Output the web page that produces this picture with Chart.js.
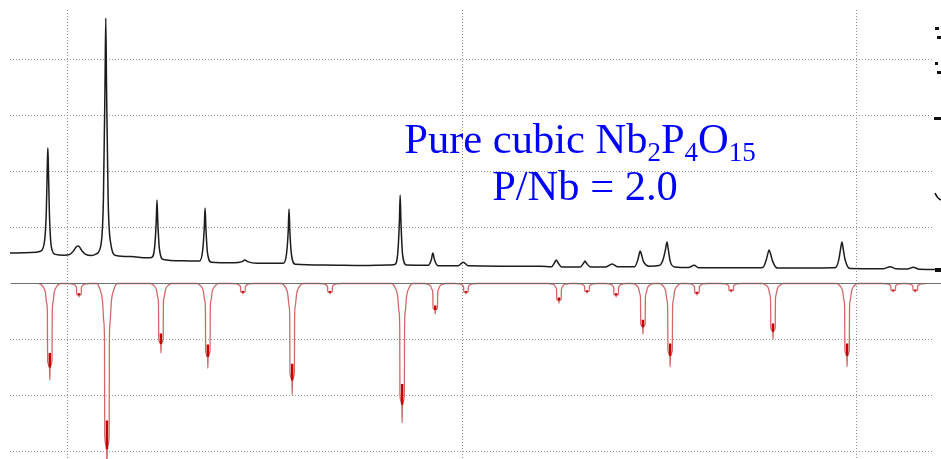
<!DOCTYPE html>
<html>
<head>
<meta charset="utf-8">
<script src="https://cdn.jsdelivr.net/npm/chart.js@4.4.1/dist/chart.umd.min.js"></script>
<style>
  html, body { margin: 0; padding: 0; background: #fff; }
  #wrap { width: 941px; height: 459px; }
</style>
</head>
<body>
<div id="wrap"><canvas id="xrd" width="941" height="459"></canvas></div>
<script>
// measured pattern: [2-theta (deg), intensity]
const observed = [
  [8.53, 10.9], [8.90, 11.0], [9.20, 11.2],
  [9.30, 11.5], [9.40, 14.5], [9.45, 25.0], [9.48, 44.0], [9.49, 48.4], [9.50, 44.0], [9.53, 25.0], [9.58, 13.0], [9.68, 10.4],
  [9.90, 10.1], [10.05, 10.4], [10.15, 11.8], [10.22, 13.2], [10.27, 13.4], [10.34, 12.0], [10.45, 10.4],
  [10.60, 10.0], [10.72, 10.6], [10.84, 14.0], [10.90, 30.0], [10.94, 70.0], [10.96, 94.8], [10.98, 70.0], [11.02, 30.0], [11.09, 14.0], [11.22, 10.0],
  [11.60, 9.6], [12.00, 9.2],
  [12.12, 9.3], [12.20, 13.0], [12.24, 22.0], [12.26, 29.8], [12.28, 22.0], [12.32, 12.5], [12.42, 8.6],
  [12.90, 8.1],
  [13.34, 8.0], [13.42, 12.0], [13.46, 20.0], [13.48, 27.0], [13.50, 20.0], [13.54, 11.0], [13.64, 7.6],
  [14.20, 7.4], [14.42, 7.8], [14.49, 8.4], [14.56, 7.8], [14.80, 7.2],
  [15.47, 7.2], [15.55, 11.0], [15.59, 19.0], [15.61, 26.6], [15.63, 19.0], [15.67, 10.5], [15.77, 6.9],
  [16.50, 6.6], [17.50, 6.4], [18.10, 6.6],
  [18.29, 6.8], [18.37, 11.0], [18.41, 22.0], [18.43, 31.6], [18.45, 22.0], [18.49, 10.5], [18.59, 6.6],
  [19.14, 6.5], [19.22, 8.5], [19.26, 10.9], [19.30, 8.5], [19.40, 6.3],
  [19.90, 6.3], [20.03, 7.6], [20.16, 6.3],
  [21.00, 6.2], [22.00, 6.2],
  [22.27, 6.0], [22.35, 7.5], [22.39, 8.4], [22.43, 7.5], [22.53, 5.9],
  [23.00, 5.9], [23.08, 7.2], [23.12, 8.0], [23.16, 7.2], [23.26, 5.9],
  [23.65, 5.9], [23.81, 7.0], [23.95, 6.0],
  [24.38, 6.0], [24.46, 8.5], [24.50, 10.8], [24.52, 11.6], [24.55, 10.5], [24.60, 8.0], [24.75, 6.2],
  [25.00, 6.4], [25.10, 8.5], [25.16, 12.0], [25.20, 14.8], [25.23, 12.5], [25.28, 8.0], [25.40, 5.9],
  [25.75, 5.7], [25.89, 6.5], [26.00, 5.6],
  [26.80, 5.6], [27.50, 5.6],
  [27.63, 5.7], [27.72, 8.5], [27.77, 11.2], [27.79, 12.0], [27.82, 11.0], [27.88, 8.0], [28.00, 5.5],
  [28.80, 5.5], [29.40, 5.6],
  [29.48, 5.7], [29.56, 8.5], [29.61, 12.8], [29.64, 14.8], [29.67, 12.5], [29.72, 8.5], [29.84, 5.4],
  [30.70, 5.3], [30.86, 6.0], [31.00, 5.3], [31.30, 5.2], [31.45, 5.8], [31.60, 5.1], [32.16, 5.0]
];

// reference lines for cubic Nb2P4O15 (plotted downward)
const refTheta = [9.54, 10.28, 10.99, 12.36, 13.55, 14.44, 15.69, 16.65, 18.48, 19.32, 20.10,
                  22.46, 23.17, 23.91, 24.59, 25.28, 25.96, 26.83, 27.89, 29.77, 30.94, 31.50];
const refInt   = [34.5, 4.8, 68.0, 24.8, 30.2, 3.7, 39.8, 3.7, 49.8, 10.9, 3.7,
                  7.0, 3.4, 4.8, 18.0, 29.8, 4.1, 3.0, 19.8, 29.8, 3.0, 3.0];

const thetaTicks = [10, 20, 30];
const intTicks = [-60, -40, -20, 20, 40, 60, 80];

const X_MIN = 8.53, X_MAX = 31.95;
const Y_MIN = -62.68, Y_MAX = 97.68;

// profile drawn around each reference line: flared top, narrow doublet stem, thin tip
const shapeDx = [-0.27, -0.178, -0.114, -0.08, -0.062, -0.056, -0.008, 0, 0.008, 0.056, 0.062, 0.08, 0.114, 0.178, 0.27];
const shapeFr = [0, 0.03, 0.09, 0.2, 0.3, 0.8, 0.86, 1, 0.86, 0.8, 0.3, 0.2, 0.09, 0.03, 0];

const refOutline = [];
const refCore = [];
refTheta.forEach((c, i) => {
  const d = refInt[i];
  shapeDx.forEach((dx, k) => refOutline.push({ x: c + dx, y: -d * shapeFr[k] }));
  refCore.push({ x: c, y: -d * 0.72 }, { x: c, y: -d * 0.87 }, { x: c, y: null });
});

const obsPoints = observed.map(p => ({ x: p[0], y: p[1] }));

const labels = {
  id: 'labels',
  afterDraw(chart) {
    const ctx = chart.ctx;
    ctx.save();
    ctx.fillStyle = '#0000ff';
    ctx.textBaseline = 'alphabetic';
    const big = '42.5px "Liberation Serif", "Times New Roman", serif';
    const small = '27px "Liberation Serif", "Times New Roman", serif';
    const runs = [['Pure cubic Nb', 0], ['2', 1], ['P', 0], ['4', 1], ['O', 0], ['15', 1]];
    let w = 0;
    runs.forEach(r => { ctx.font = r[1] ? small : big; w += ctx.measureText(r[0]).width; });
    let x = 580 - w / 2;
    runs.forEach(r => {
      ctx.font = r[1] ? small : big;
      ctx.fillText(r[0], x, r[1] ? 161 : 153);
      x += ctx.measureText(r[0]).width;
    });
    ctx.font = big;
    ctx.textAlign = 'center';
    ctx.fillText('P/Nb = 2.0', 585, 200);

    // bits of the neighbouring panel cut off at the right edge
    ctx.fillStyle = '#111';
    ctx.fillRect(935, 27, 4, 3);
    ctx.fillRect(937, 36, 4, 3);
    ctx.fillRect(935, 62, 3, 3);
    ctx.fillRect(937, 71, 4, 3);
    ctx.fillRect(934, 117, 7, 3);
    ctx.fillRect(935, 268, 6, 4);
    ctx.strokeStyle = '#111';
    ctx.lineWidth = 1.5;
    ctx.beginPath();
    ctx.moveTo(935, 193);
    ctx.quadraticCurveTo(937, 198, 941, 200);
    ctx.stroke();
    ctx.restore();
  }
};

new Chart(document.getElementById('xrd'), {
  type: 'line',
  data: {
    datasets: [
      {
        data: [{ x: 8.55, y: 0 }, { x: 32.2, y: 0 }],
        borderColor: '#6e6e6e',
        borderWidth: 1.2,
        pointRadius: 0,
        clip: false
      },
      {
        data: obsPoints,
        borderColor: '#1c1c1c',
        borderWidth: 1.5,
        pointRadius: 0,
        cubicInterpolationMode: 'monotone',
        clip: false
      },
      {
        data: refCore,
        borderColor: '#c40000',
        borderWidth: 2.4,
        pointRadius: 0,
        spanGaps: false,
        clip: false
      },
      {
        data: refOutline,
        borderColor: 'rgba(200, 80, 80, 0.85)',
        backgroundColor: 'rgba(230, 150, 150, 0.35)',
        borderWidth: 1.3,
        pointRadius: 0,
        cubicInterpolationMode: 'monotone',
        clip: false
      }
    ]
  },
  options: {
    responsive: false,
    animation: false,
    layout: { padding: { left: 10, right: 8, top: 10, bottom: 0 } },
    plugins: { legend: { display: false }, tooltip: { enabled: false } },
    scales: {
      x: {
        type: 'linear',
        min: X_MIN,
        max: X_MAX,
        afterBuildTicks: s => { s.ticks = thetaTicks.map(v => ({ value: v })); },
        ticks: { display: false },
        grid: { color: '#8c8c8c', drawTicks: false, lineWidth: 1 },
        border: { display: false, dash: [1, 2] }
      },
      y: {
        min: Y_MIN,
        max: Y_MAX,
        afterBuildTicks: s => { s.ticks = intTicks.map(v => ({ value: v })); },
        ticks: { display: false },
        grid: { color: '#9a9a9a', drawTicks: false, lineWidth: 1 },
        border: { display: false, dash: [1, 2] }
      }
    }
  },
  plugins: [labels]
});
</script>
</body>
</html>
